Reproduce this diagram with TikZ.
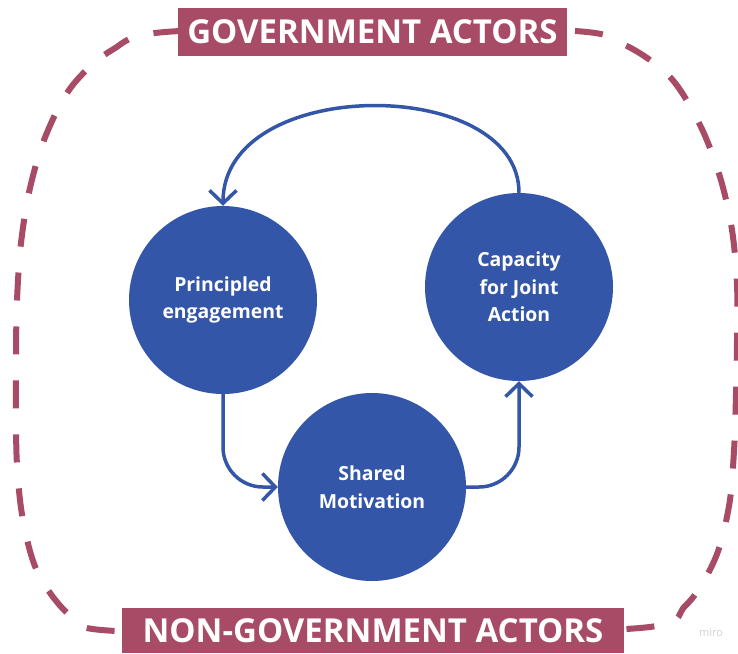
\documentclass[tikz,border=0pt]{standalone}
\usepackage{fontspec}
\setmainfont{Open Sans}
\usetikzlibrary{arrows.meta}
\definecolor{maroon}{HTML}{A84B66}
\definecolor{cblue}{HTML}{3356A8}
\tikzset{
  bubble/.style={circle, fill=cblue, minimum size=188pt, inner sep=0pt, text=white, align=center,
    font=\bfseries\fontsize{19.4}{27.5}\selectfont},
  tag/.style={fill=maroon, text=white, inner sep=0pt, font=\bfseries\fontsize{33}{36}\selectfont},
  flow/.style={draw=cblue, line width=3.5pt, -{Straight Barb[length=13pt,width=27pt]}},
  outline/.style={draw=maroon, line width=6pt, dash pattern=on 28pt off 26pt}
}
\begin{document}
\begin{tikzpicture}[x=1pt,y=-1pt]
\useasboundingbox (0,0) rectangle (738,653);
\fill[white] (0,0) rectangle (738,653);
% dashed outline
\draw[outline] plot[smooth cycle, tension=0.55] coordinates {
 (372,28) (575,31) (625,45) (670,77) (700,125) (720,177) (732,230) (737,285)
 (737,340) (736,394) (734,451) (729,506) (715,559) (686,605) (640,628) (372,633)
 (116,631) (71,616) (38,573) (23,520) (17,465) (16,410) (16,355) (17,300)
 (21,243) (30,188) (46,135) (72,86) (112,50) (165,32)};
% labels
\node[tag, minimum width=389pt, minimum height=48pt] (gov) at (372.5,32) {GOVERNMENT ACTORS};
\node[tag, minimum width=502pt, minimum height=45pt] (ngov) at (373,630.5) {NON-GOVERNMENT ACTORS};
% circles
\node[bubble] (pe) at (223,300) {Principled\\engagement};
\node[bubble] (cap) at (519,287) {Capacity\\for Joint\\Action};
\node[bubble] (sm) at (372,487) {Shared\\Motivation};
% arrows
\draw[flow] (cap.north) .. controls (519,75) and (223,75) .. (pe.north);
\draw[flow, rounded corners=40pt] (pe.south) |- (sm.west);
\draw[flow, rounded corners=40pt] (sm.east) -| (cap.south);
% watermark
\node[text=black!18, font=\fontsize{11}{12}\selectfont] (miro) at (711,633) {miro};
\end{tikzpicture}
\end{document}
